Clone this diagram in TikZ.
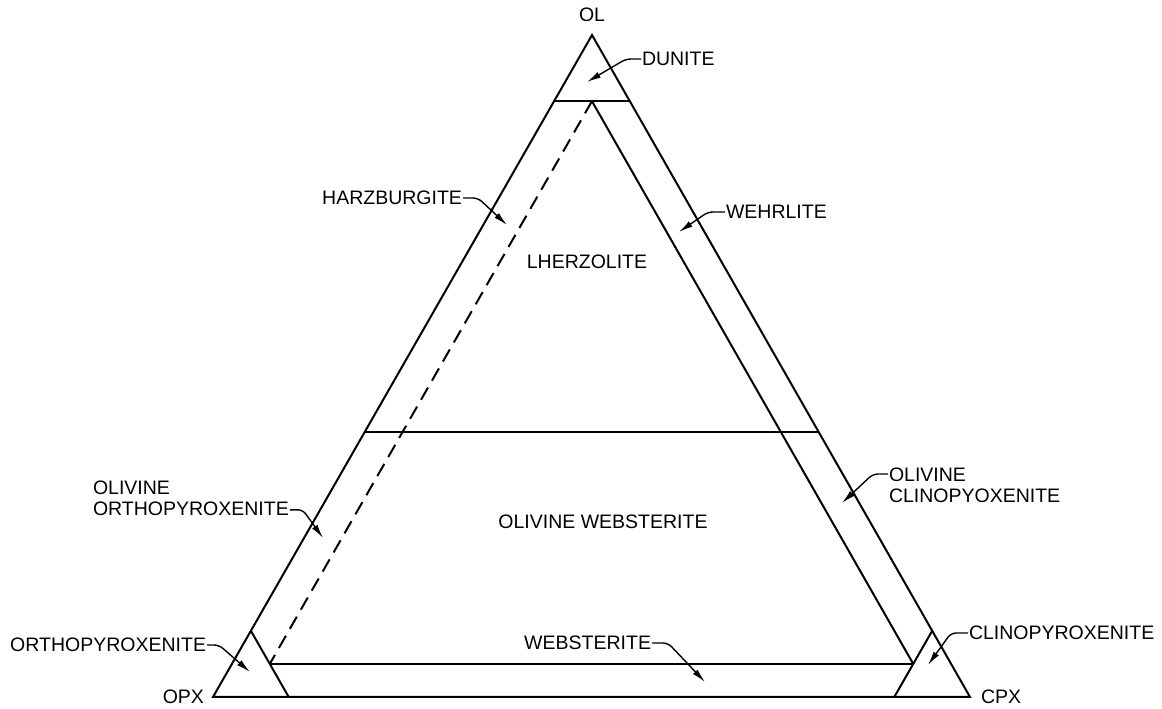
\documentclass[tikz,border=0pt]{standalone}
\usepackage{fontspec}
\setmainfont{Liberation Sans}
\usetikzlibrary{arrows.meta,calc,positioning}

\begin{document}
\begin{tikzpicture}[>=Latex,x=1pt,y=1pt,line width=2pt,
  lbl/.style={inner sep=0pt,font=\fontsize{19.5}{21}\selectfont},
  leader/.style={line width=1.4pt,rounded corners=5pt,-{Latex[length=14pt,width=6.5pt]}},
  boundary/.style={dash pattern=on 14pt off 8pt}]
\useasboundingbox (0,0) rectangle (1162,709);
\coordinate (ol) at (592,674);
\coordinate (opx) at (213,12);
\coordinate (cpx) at (970,12);
\draw[line join=miter] (ol)--(opx)--(cpx)--cycle;
\draw (barycentric cs:ol=.9,opx=.1,cpx=0)--(barycentric cs:ol=.9,opx=0,cpx=.1);
\draw (barycentric cs:ol=.4,opx=.6,cpx=0)--(barycentric cs:ol=.4,opx=0,cpx=.6);
\draw (barycentric cs:ol=.05,opx=.9,cpx=.05)--(barycentric cs:ol=.05,opx=.05,cpx=.9);
\draw (barycentric cs:ol=.1,opx=.9,cpx=0)--(barycentric cs:ol=0,opx=.9,cpx=.1);
\draw (barycentric cs:ol=.1,opx=0,cpx=.9)--(barycentric cs:ol=0,opx=.1,cpx=.9);
\draw (barycentric cs:ol=.9,opx=.05,cpx=.05)--(barycentric cs:ol=.05,opx=.05,cpx=.9);
\draw[boundary] (barycentric cs:ol=.9,opx=.05,cpx=.05)--(barycentric cs:ol=.05,opx=.9,cpx=.05);

\node[lbl] (olname) at (592,694) {OL};
\node[lbl,anchor=east] (opxname) at (205,12) {OPX};
\node[lbl,anchor=west] (cpxname) at (980,12) {CPX};
\node[lbl] (lherz) at (587,447) {LHERZOLITE};
\node[lbl] (olweb) at (603,187) {OLIVINE WEBSTERITE};

\node[lbl,anchor=west] (dun) at (641,650) {DUNITE};
\node[lbl,anchor=east] (harz) at (463,511) {HARZBURGITE};
\node[lbl,anchor=west] (wehr) at (725,497) {WEHRLITE};
\node[lbl,anchor=north west,align=left] (oopx) at (92,229) {OLIVINE\\ORTHOPYROXENITE};
\node[lbl,anchor=north west,align=left] (ocpx) at (888,242) {OLIVINE\\CLINOPYOXENITE};
\node[lbl,anchor=east] (orthopx) at (207,64) {ORTHOPYROXENITE};
\node[lbl,anchor=west] (clinopx) at (968,76) {CLINOPYROXENITE};
\node[lbl,anchor=east] (web) at (652,66) {WEBSTERITE};

\coordinate (duntip) at (587,627);
\coordinate (harztip) at (507,484);
\coordinate (wehrtip) at (679,477);
\coordinate (oopxtip) at (323,171);
\coordinate (ocpxtip) at (842,206);
\coordinate (orthopxtip) at (250,37);
\coordinate (clinopxtip) at (928,44);
\coordinate (webtip) at (705,27);

\draw[leader] (dun.west)--++(-15,0)--(duntip);
\draw[leader] (harz.east)--++(15,0)--(harztip);
\draw[leader] (wehr.west)--++(-17,0)--(wehrtip);
\draw[leader] ([yshift=7pt]oopx.south east)--++(13,0)--(oopxtip);
\draw[leader] ([yshift=-7pt]ocpx.north west)--++(-15,0)--(ocpxtip);
\draw[leader] (orthopx.east)--++(12,0)--(orthopxtip);
\draw[leader] (clinopx.west)--++(-17,0)--(clinopxtip);
\draw[leader] (web.east)--++(16,0)--(webtip);
\end{tikzpicture}
\end{document}
